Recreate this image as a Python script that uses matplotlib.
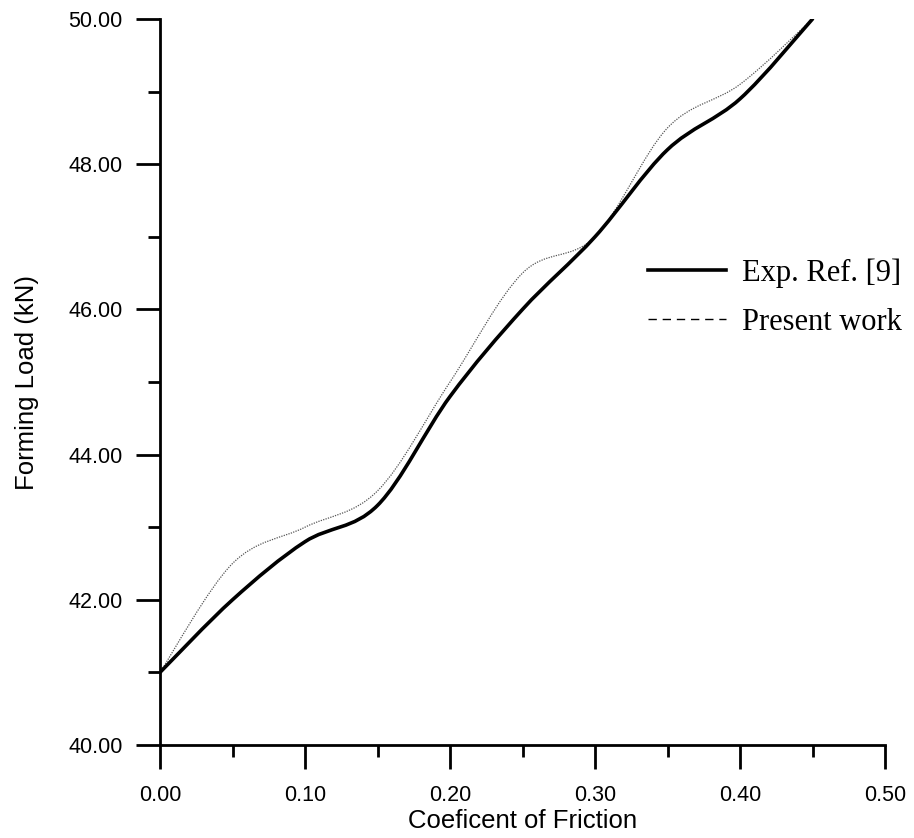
import numpy as np
import matplotlib
matplotlib.use("Agg")
import matplotlib.pyplot as plt
from matplotlib.path import Path
from matplotlib.patches import PathPatch
from matplotlib.lines import Line2D
from matplotlib.ticker import MultipleLocator, FormatStrFormatter

# data
friction = [0.00, 0.05, 0.10, 0.15, 0.20, 0.25, 0.30, 0.35, 0.40, 0.45]
exp_load = [41.0, 42.0, 42.8, 43.3, 44.8, 46.0, 47.0, 48.2, 48.9, 50.0]
present_load = [41.0, 42.5, 43.0, 43.5, 45.0, 46.5, 47.0, 48.5, 49.1, 50.0]


# smooth curve through the points (catmull-rom as cubic bezier segments)
def smooth_path(x, y):
    p = np.column_stack([x, y]).astype(float)
    n = len(p)
    verts = [p[0]]
    codes = [Path.MOVETO]
    for i in range(n - 1):
        p0 = p[max(i - 1, 0)]
        p1 = p[i]
        p2 = p[i + 1]
        p3 = p[min(i + 2, n - 1)]
        c1 = p1 + (p2 - p0) / 6.0
        c2 = p2 - (p3 - p1) / 6.0
        verts += [c1, c2, p2]
        codes += [Path.CURVE4] * 3
    return Path(verts, codes)


plt.rcParams['font.family'] = ['Liberation Sans', 'DejaVu Sans']

fig = plt.figure(figsize=(9.14, 8.38), dpi=100)
ax = fig.add_axes([160 / 914, 1 - 745 / 838, 725 / 914, 726 / 838])

ax.add_patch(PathPatch(smooth_path(friction, present_load), fill=False,
                       ec='#555555', lw=0.9, ls=(0, (1, 1))))
ax.add_patch(PathPatch(smooth_path(friction, exp_load), fill=False,
                       ec='black', lw=2.6, capstyle='round'))

ax.set_xlim(0, 0.5)
ax.set_ylim(40, 50)

ax.xaxis.set_major_locator(MultipleLocator(0.1))
ax.xaxis.set_minor_locator(MultipleLocator(0.05))
ax.yaxis.set_major_locator(MultipleLocator(2))
ax.yaxis.set_minor_locator(MultipleLocator(1))
ax.xaxis.set_major_formatter(FormatStrFormatter('%.2f'))
ax.yaxis.set_major_formatter(FormatStrFormatter('%.2f'))

for s in ['top', 'right']:
    ax.spines[s].set_visible(False)
for s in ['left', 'bottom']:
    ax.spines[s].set_linewidth(2)
    ax.spines[s].set_capstyle('projecting')

ax.tick_params(which='major', length=17.3, width=2, labelsize=15.5, color='black')
ax.tick_params(which='minor', length=8.6, width=2)
ax.tick_params(axis='x', which='major', pad=11.5)
ax.tick_params(axis='y', which='major', pad=9.4)

ax.set_xlabel('Coeficent of Friction', fontsize=18.5, labelpad=2.5)
ax.set_ylabel('Forming Load (kN)', fontsize=18.5, labelpad=21)

handles = [Line2D([], [], color='black', lw=2.6),
           Line2D([], [], color='black', lw=1.0, ls=(0, (6, 4.2)))]
leg = fig.legend(handles, ['Exp. Ref. [9]', 'Present work'],
                 loc='upper left', bbox_to_anchor=(648 / 914, 1 - 258 / 838),
                 frameon=False, borderpad=0, borderaxespad=0,
                 handlelength=2.55, handletextpad=0.52, labelspacing=0.66,
                 prop={'family': 'Liberation Serif', 'size': 22})

fig.savefig('out.png', dpi=100)
